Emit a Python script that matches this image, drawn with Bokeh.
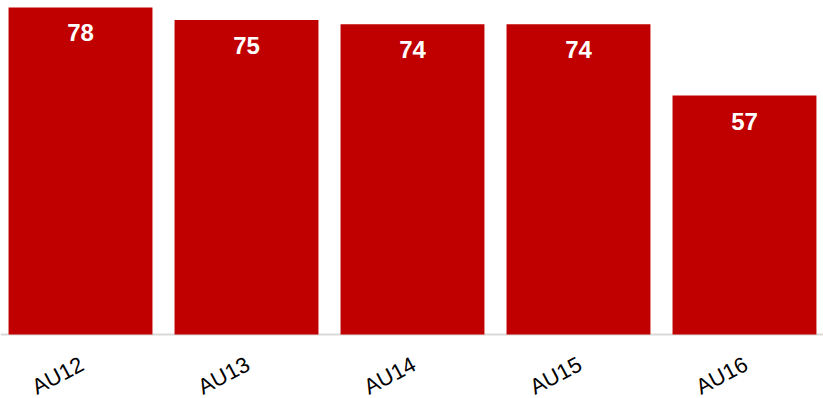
from bokeh.plotting import figure
from bokeh.models import Range1d, ColumnDataSource, LabelSet, Span
from bokeh.core.properties import value
from bokeh.embed import file_html
from bokeh.resources import INLINE
import math

categories = ["AU12", "AU13", "AU14", "AU15", "AU16"]
values = [78, 75, 74, 74, 57]

idx = list(range(len(categories)))
src = ColumnDataSource(dict(x=idx, top=values, base=[0] * len(idx),
                            lab=[str(v) for v in values], cat=categories))

p = figure(width=823, height=398, output_backend="svg", toolbar_location=None,
           x_range=Range1d(-0.482, 4.476), y_range=Range1d(-15.26, 79.66),
           x_axis_location=None, y_axis_location=None,
           min_border_left=0, min_border_right=0, min_border_top=0, min_border_bottom=0)
p.xgrid.visible = False
p.ygrid.visible = False
p.outline_line_color = None

# baseline (category axis line)
p.add_layout(Span(location=0, dimension="width", line_color="#d9d9d9",
                  line_width=2, level="underlay"))

p.vbar(x="x", top="top", bottom=0, width=0.867, source=src, color="#c00000", line_color=None)

labels = LabelSet(x="x", y="top", text="lab", source=src, text_align="center",
                  text_baseline="middle", y_offset=-25.5, text_color="white",
                  text_font=value("Liberation Sans"), text_font_style="bold",
                  text_font_size="24px")
p.add_layout(labels)

cat_labels = LabelSet(x="x", y="base", text="cat", source=src, text_align="right",
                      text_baseline="middle", angle=math.radians(28),
                      x_offset=1.5, y_offset=-28, text_color="#000000",
                      text_font=value("Liberation Sans"), text_font_size="22px")
p.add_layout(cat_labels)

open("out.html", "w").write(file_html(p, INLINE))
